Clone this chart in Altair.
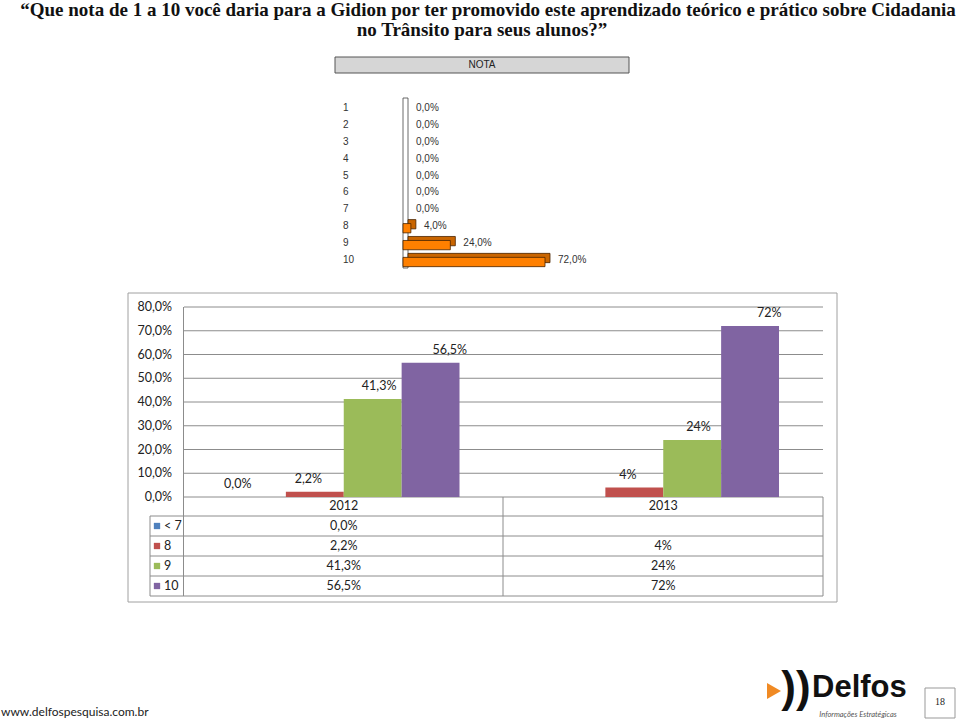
import altair as alt
import pandas as pd

# ---------------- data ----------------
notas = ["1", "2", "3", "4", "5", "6", "7", "8", "9", "10"]
nota_pct = [0.0, 0.0, 0.0, 0.0, 0.0, 0.0, 0.0, 4.0, 24.0, 72.0]

years = ["2012", "2013"]
series = ["< 7", "8", "9", "10"]
values_2012 = [0.0, 2.2, 41.3, 56.5]
labels_2012 = ["0,0%", "2,2%", "41,3%", "56,5%"]
values_2013 = [None, 4.0, 24.0, 72.0]
labels_2013 = ["", "4%", "24%", "72%"]
series_colors = ["#4F81BD", "#C0504D", "#9BBB59", "#8064A2"]
y_ticks = [0, 10, 20, 30, 40, 50, 60, 70, 80]

title_lines = [
    "\u201cQue nota de 1 a 10 voc\u00ea daria para a Gidion por ter promovido este aprendizado te\u00f3rico e pr\u00e1tico sobre Cidadania",
    "no Tr\u00e2nsito para seus alunos?\u201d",
]

top_df = pd.DataFrame({
    "nota": notas,
    "pct": nota_pct,
    "label": [f"{v:.1f}%".replace(".", ",") for v in nota_pct],
})
top_bars_df = top_df[top_df["pct"] > 0]

rows = []
for y, vals, labs in [("2012", values_2012, labels_2012), ("2013", values_2013, labels_2013)]:
    for s, v, l in zip(series, vals, labs):
        rows.append({"year": y, "serie": s, "value": v, "label": l})
bot_df = pd.DataFrame(rows)
bot_bars_df = bot_df[bot_df["value"].notna()]
tick_df = pd.DataFrame({"t": y_ticks, "lab": [f"{t:.1f}%".replace(".", ",") for t in y_ticks]})
series_df = pd.DataFrame({"serie": series})
year_df = pd.DataFrame({"year": years})

ARIAL = "Liberation Sans"
CAL = "Lato"
ONE = alt.Data(values=[{}])


def txt(text, x, y, **kw):
    return alt.Chart(ONE).mark_text(**kw).encode(
        x=alt.value(x), y=alt.value(y), text=alt.value(text))


def box(x1, x2, y1, y2, **kw):
    return alt.Chart(ONE).mark_rect(**kw).encode(
        x=alt.value(x1), x2=alt.value(x2), y=alt.value(y1), y2=alt.value(y2))


def line(x1, x2, y1, y2, color="#8c8c8c", w=1):
    return alt.Chart(ONE).mark_rule(color=color, strokeWidth=w).encode(
        x=alt.value(x1), x2=alt.value(x2), y=alt.value(y1), y2=alt.value(y2))


layers = []

# ---------------- title ----------------
TF = "Liberation Serif"
layers.append(txt(title_lines[0], 488, 10, font=TF, fontSize=19, fontWeight="bold", color="#111", align="center", baseline="middle"))
layers.append(txt(title_lines[1], 482, 30, font=TF, fontSize=19, fontWeight="bold", color="#111", align="center", baseline="middle"))

# ---------------- top chart (NOTA) ----------------
layers.append(box(335, 629, 57, 73, fill="#d6d6d6", stroke="#555", strokeWidth=1))
layers.append(txt("NOTA", 482, 65, font=ARIAL, fontSize=10, color="#222", align="center", baseline="middle"))

xs_top = alt.Scale(domain=[0, 72], range=[403, 545], nice=False, zero=True)
ys_top = alt.Scale(domain=notas, range=[99.55, 268.45], paddingInner=0.45, paddingOuter=0.225)

# white zero "wall"
layers.append(box(403, 408, 98, 268, fill="white", stroke="#444", strokeWidth=0.8))

layers.append(alt.Chart(top_bars_df).mark_bar(color="#C96500", stroke="#4a2500", strokeWidth=0.8, xOffset=5, yOffset=-2).encode(
    x=alt.X("pct:Q", scale=xs_top, axis=None),
    y=alt.Y("nota:N", scale=ys_top, axis=None)))
layers.append(alt.Chart(top_bars_df).mark_bar(color="#FF8000", stroke="#4a2500", strokeWidth=0.8, yOffset=2).encode(
    x=alt.X("pct:Q", scale=xs_top, axis=None),
    y=alt.Y("nota:N", scale=ys_top, axis=None)))
layers.append(alt.Chart(top_df).mark_text(font=ARIAL, fontSize=10, color="#333", align="left", baseline="middle", dx=13).encode(
    x=alt.X("pct:Q", scale=xs_top, axis=None),
    y=alt.Y("nota:N", scale=ys_top, axis=None),
    text="label:N"))
layers.append(alt.Chart(top_df).mark_text(font=ARIAL, fontSize=10, color="#333", align="left", baseline="middle").encode(
    x=alt.value(343),
    y=alt.Y("nota:N", scale=ys_top, axis=None),
    text="nota:N"))

# ---------------- bottom chart ----------------
layers.append(box(128, 837, 293, 602, fill="white", stroke="#a0a0a0", strokeWidth=1))

ys_bot = alt.Scale(domain=[0, 80], range=[497, 307], nice=False, zero=True)
xs_bot = alt.Scale(domain=years, range=[184, 823], paddingInner=0, paddingOuter=0)
xo_bot = alt.Scale(domain=series, paddingInner=0, paddingOuter=0.76)
col_bot = alt.Scale(domain=series, range=series_colors)
row_scale = alt.Scale(domain=series, range=[516, 596], paddingInner=0, paddingOuter=0)

layers.append(alt.Chart(tick_df).mark_rule(color="#8c8c8c", strokeWidth=1).encode(
    x=alt.value(184), x2=alt.value(823),
    y=alt.Y("t:Q", scale=ys_bot, axis=None)))
layers.append(alt.Chart(tick_df).mark_text(font=CAL, fontSize=12.5, color="#222", align="right", baseline="middle").encode(
    x=alt.value(172),
    y=alt.Y("t:Q", scale=ys_bot, axis=None),
    text="lab:N"))

layers.append(alt.Chart(bot_bars_df).mark_bar().encode(
    x=alt.X("year:N", scale=xs_bot, axis=None),
    xOffset=alt.XOffset("serie:N", scale=xo_bot),
    y=alt.Y("value:Q", scale=ys_bot, axis=None),
    color=alt.Color("serie:N", scale=col_bot, legend=None)))
layers.append(alt.Chart(bot_bars_df).mark_text(font=CAL, fontSize=12.5, color="#222", align="center", baseline="middle", dy=-13).encode(
    x=alt.X("year:N", scale=xs_bot, axis=None),
    xOffset=alt.XOffset("serie:N", scale=xo_bot),
    y=alt.Y("value:Q", scale=ys_bot, axis=None),
    text="label:N"))

# table grid
layers.append(line(183.5, 183.5, 307, 596))
layers.append(line(150, 150, 516, 596))
layers.append(line(503, 503, 497, 596))
layers.append(line(823, 823, 497, 596))
for yy in [516, 536, 556, 576, 596]:
    layers.append(line(150, 823, yy, yy))

layers.append(alt.Chart(year_df).mark_text(font=CAL, fontSize=12.5, color="#222", align="center", baseline="middle").encode(
    x=alt.X("year:N", scale=xs_bot, axis=None),
    y=alt.value(506),
    text="year:N"))
layers.append(alt.Chart(bot_df).mark_text(font=CAL, fontSize=12.5, color="#222", align="center", baseline="middle").encode(
    x=alt.X("year:N", scale=xs_bot, axis=None),
    y=alt.Y("serie:N", scale=row_scale, axis=None),
    text="label:N"))
layers.append(alt.Chart(series_df).mark_square(size=40, opacity=1).encode(
    x=alt.value(157),
    y=alt.Y("serie:N", scale=row_scale, axis=None),
    color=alt.Color("serie:N", scale=col_bot, legend=None)))
layers.append(alt.Chart(series_df).mark_text(font=CAL, fontSize=12.5, color="#222", align="left", baseline="middle").encode(
    x=alt.value(164),
    y=alt.Y("serie:N", scale=row_scale, axis=None),
    text="serie:N"))

# ---------------- footer ----------------
layers.append(txt("www.delfospesquisa.com.br", 1, 712, font=CAL, fontSize=12, color="#222", align="left", baseline="middle"))
layers.append(alt.Chart(ONE).mark_point(shape="triangle-right", filled=True, color="#F08A24", size=260, opacity=1).encode(
    x=alt.value(774), y=alt.value(691)))
layers.append(txt("))", 796, 689, font=ARIAL, fontSize=44, fontWeight="bold", color="#111", align="center", baseline="middle"))
layers.append(txt("Delfos", 812, 688, font=ARIAL, fontSize=31, fontWeight="bold", color="#111", align="left", baseline="middle"))
layers.append(txt("Informa\u00e7\u00f5es Estrat\u00e9gicas", 858, 715, font=CAL, fontSize=7.5, fontStyle="italic", color="#555", align="center", baseline="middle"))
layers.append(box(925, 955, 688, 718, fill="white", stroke="#999", strokeWidth=1))
layers.append(txt("18", 940, 702, font="Liberation Serif", fontSize=10, color="#222", align="center", baseline="middle"))

chart = alt.layer(*layers).resolve_scale(
    x="independent", y="independent", color="independent", xOffset="independent"
).properties(
    width=960, height=723, padding=0, autosize="none", background="white"
).configure_view(stroke=None)

chart.save("out.html", embed_options={"renderer": "svg", "actions": False})
